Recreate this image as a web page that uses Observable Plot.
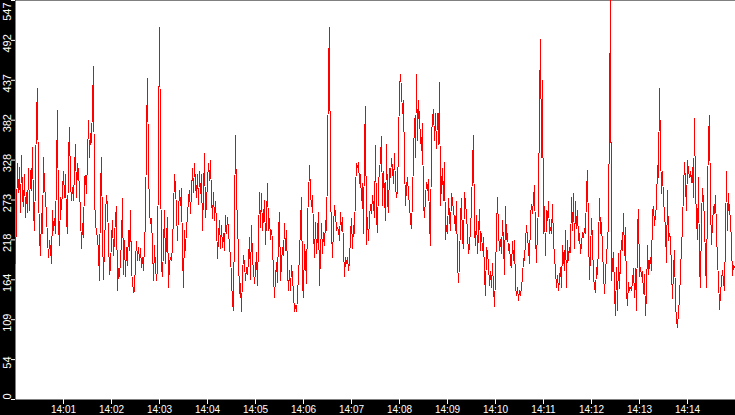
<!DOCTYPE html>
<html><head><meta charset="utf-8">
<script src="https://cdn.jsdelivr.net/npm/d3@7"></script>
<script src="https://cdn.jsdelivr.net/npm/@observablehq/plot@0.6"></script>
<style>html,body{margin:0;padding:0;background:#000;overflow:hidden;}</style>
</head><body><div id="chart"></div>
<script>
// Readings, one sample every 1.25 s from 14:00:00 (six blocks of 2.5 minutes)
const seg1 = [186,255,323,284,318,257,334,277,264,309,
250,284,257,316,259,314,287,346,259,232,
309,389,426,287,225,197,255,227,332,291,
277,252,220,195,218,207,186,259,232,248,
227,316,396,241,211,277,261,287,312,277,
309,245,227,332,373,296,273,291,273,314,
350,277,323,312,287,255,207,241,222,305,
307,282,332,382,332,364,353,405,456,280,
241,229,222,202,163,289,332,227,165,209,
255,280,266,220,172,181,220,245,197,220,
250,264,149,179,168,191,218,275,172,218,
168,209,184,232,204,259,177,161,147,149];
const seg2 = [191,216,191,209,191,207,181,195,177,213,
245,364,440,323,257,241,248,209,163,211,
181,163,181,346,510,346,181,168,209,259,
186,218,250,154,186,195,191,209,257,309,
291,259,218,257,287,266,289,200,154,232,
204,236,250,277,287,255,284,316,284,323,
296,277,309,268,312,282,309,232,284,337,
250,268,300,323,300,328,277,248,284,245,
271,241,193,225,245,207,238,209,227,204,
252,227,250,232,209,195,168,131,122,250,
362,273,248,195,145,159,120,172,197,186,
163,181,172,191,222,165,238,193,177,159];
const seg3 = [175,202,156,220,284,236,282,232,250,273,
213,248,296,232,248,220,232,218,168,140,
168,188,161,229,257,163,186,209,197,241,
204,232,177,149,177,149,184,168,145,120,
129,120,140,172,195,241,277,159,140,213,
195,159,250,275,321,284,264,280,232,195,
243,200,227,257,156,200,241,200,229,211,
245,232,323,453,510,282,232,195,236,266,
255,232,236,232,218,257,232,250,209,168,
195,186,195,177,188,227,248,207,238,227,
287,323,318,325,296,309,273,296,227,353,
401,213,250,218,248,268,255,280,266,250];
const seg4 = [348,250,229,298,312,332,360,266,312,282,
245,350,271,257,316,305,330,316,296,337,
293,277,287,348,426,446,424,392,410,325,
266,291,305,282,266,245,234,277,332,385,
332,446,355,410,382,360,341,378,268,250,
277,298,287,302,243,211,362,385,398,355,
392,344,392,350,435,266,296,316,273,325,
220,238,227,275,250,232,282,273,257,250,
232,271,186,161,186,248,275,220,207,284,
268,255,227,200,209,236,261,321,362,232,
211,252,200,227,261,204,227,204,222,170,
143,209,200,186,156,175,154,186,154,127];
const seg5 = [170,234,277,232,204,220,200,245,216,172,
264,220,227,204,213,186,181,216,191,218,
156,143,154,136,149,143,154,168,193,191,
218,238,222,207,186,250,268,255,275,293,
225,188,234,264,408,494,332,437,227,264,
197,259,245,271,227,236,227,268,218,195,
177,154,170,149,165,181,154,211,195,177,
232,154,218,191,209,202,277,232,282,207,
271,234,259,218,227,200,213,229,222,234,
227,284,314,227,165,200,248,218,168,154,
147,181,172,211,275,227,243,207,172,145,
170,200,213,245,398,547,163,186,202,149];
const seg6 = [115,181,122,200,152,191,218,204,255,197,
236,147,129,161,149,154,149,161,179,140,
179,122,234,261,168,181,168,175,145,172,
115,145,211,172,186,195,177,257,264,239,
252,268,321,305,426,346,282,312,273,255,
232,188,287,218,227,220,177,138,177,204,
133,108,99,122,136,177,207,238,289,325,
298,259,328,314,305,312,298,318,277,385,
289,248,220,305,181,154,250,289,273,245,
186,154,280,360,389,266,213,241,264,255,
280,232,186,168,124,145,163,177,163,149,
227,312,232,282,255,250,211,170,184,181];

const startTime = "14:00:00";
const endTime = "14:15:00";
const stepMs = 1250;
const xTickLabels = ["14:01","14:02","14:03","14:04","14:05","14:06","14:07","14:08","14:09","14:10","14:11","14:12","14:13","14:14"];
const yTickValues = [0,54.7,109.4,164.1,218.8,273.5,328.2,382.9,437.6,492.3,547];
const yTickLabels = ["0","54","109","164","218","273","328","382","437","492","547"];

const values = [...seg1, ...seg2, ...seg3, ...seg4, ...seg5, ...seg6];
const t0 = new Date(`2024-01-01T${startTime}Z`);
const t1 = new Date(`2024-01-01T${endTime}Z`);
const data = values.map((v, i) => ({t: new Date(+t0 + i * stepMs), v}));
const xTicks = xTickLabels.map(s => new Date(`2024-01-01T${s}:00Z`));
const n = yTickValues.length;
const midIdx = d3.range(1, n - 1);

const yLabelOpts = {
  y: i => yTickValues[i], text: i => yTickLabels[i],
  frameAnchor: "left", dx: -5, rotate: -90, lineAnchor: "bottom",
  fill: "white", fontSize: 11
};

const chart = Plot.plot({
  width: 735, height: 415,
  marginLeft: 15, marginRight: 0, marginTop: 0, marginBottom: 16,
  style: {background: "#000", color: "white", fontFamily: "'Liberation Sans', Arial, sans-serif", fontSize: "10px"},
  x: {type: "utc", domain: [t0, t1], label: null},
  y: {domain: [0, 547], label: null},
  marks: [
    Plot.frame({fill: "white", stroke: null}),
    Plot.line(data, {x: "t", y: "v", stroke: "#ff0000", strokeWidth: 1, shapeRendering: "crispEdges"}),
    Plot.axisX({ticks: xTicks, tickFormat: d3.utcFormat("%H:%M"), tickSize: 5, tickPadding: 1, stroke: "white", fill: "white", fontSize: 10, label: null}),
    Plot.axisY({ticks: yTickValues, tickSize: 4, tickFormat: () => "", stroke: "white", label: null}),
    Plot.text(midIdx, {...yLabelOpts, textAnchor: "middle", dy: 3}),
    Plot.text([0], {...yLabelOpts, textAnchor: "start", dy: 0}),
    Plot.text([n - 1], {...yLabelOpts, textAnchor: "end", dy: 2})
  ]
});
document.getElementById("chart").append(chart);
</script>
</body></html>
